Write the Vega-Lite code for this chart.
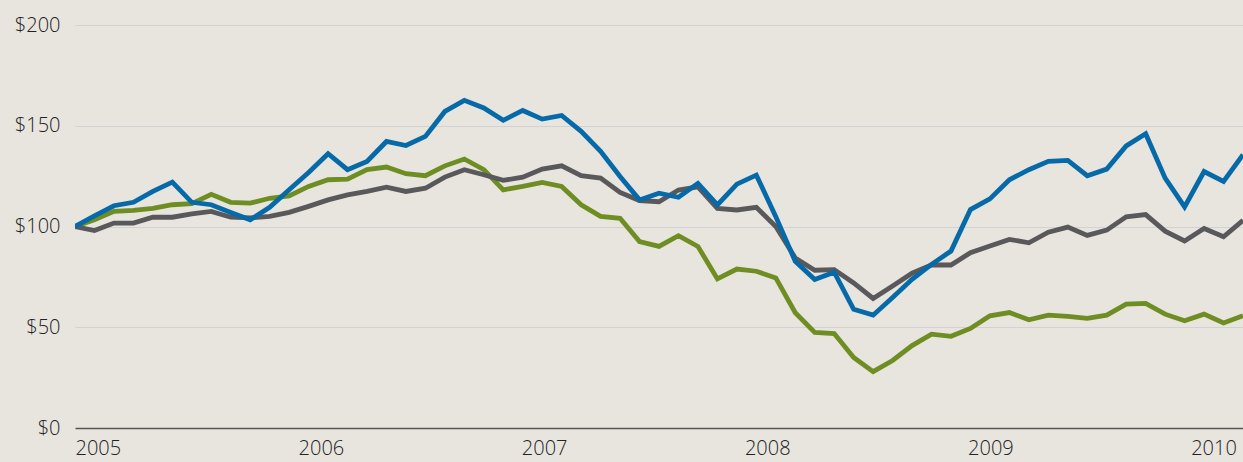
{
  "$schema": "https://vega.github.io/schema/vega-lite/v6.json",
  "width": 1168,
  "height": 403,
  "autosize": {"type": "none"},
  "padding": {"left": 75, "top": 25, "right": 0, "bottom": 34},
  "background": "#e8e5df",
  "config": {
    "view": {"stroke": null},
    "axis": {"labelFont": "Open Sans", "labelFontSize": 20, "labelFontWeight": 300, "labelColor": "#222222"}
  },
  "data": {
    "values": [
      {"m":0,"s":"A","v":100},{"m":1,"s":"A","v":103.3},{"m":2,"s":"A","v":107.5},{"m":3,"s":"A","v":108},{"m":4,"s":"A","v":109},{"m":5,"s":"A","v":110.8},{"m":6,"s":"A","v":111.3},{"m":7,"s":"A","v":116},{"m":8,"s":"A","v":112},{"m":9,"s":"A","v":111.6},
      {"m":10,"s":"A","v":114},{"m":11,"s":"A","v":115.2},{"m":12,"s":"A","v":119.9},{"m":13,"s":"A","v":123.2},{"m":14,"s":"A","v":123.5},{"m":15,"s":"A","v":128.2},{"m":16,"s":"A","v":129.5},{"m":17,"s":"A","v":126.2},{"m":18,"s":"A","v":125.2},{"m":19,"s":"A","v":130.1},
      {"m":20,"s":"A","v":133.5},{"m":21,"s":"A","v":128.2},{"m":22,"s":"A","v":118.2},{"m":23,"s":"A","v":119.9},{"m":24,"s":"A","v":121.9},{"m":25,"s":"A","v":119.9},{"m":26,"s":"A","v":110.8},{"m":27,"s":"A","v":105},{"m":28,"s":"A","v":104.1},{"m":29,"s":"A","v":92.5},
      {"m":30,"s":"A","v":90.1},{"m":31,"s":"A","v":95.4},{"m":32,"s":"A","v":90.1},{"m":33,"s":"A","v":74},{"m":34,"s":"A","v":78.9},{"m":35,"s":"A","v":77.8},{"m":36,"s":"A","v":74.5},{"m":37,"s":"A","v":57.2},{"m":38,"s":"A","v":47.4},{"m":39,"s":"A","v":46.9},
      {"m":40,"s":"A","v":35},{"m":41,"s":"A","v":28},{"m":42,"s":"A","v":33.5},{"m":43,"s":"A","v":40.9},{"m":44,"s":"A","v":46.6},{"m":45,"s":"A","v":45.5},{"m":46,"s":"A","v":49.4},{"m":47,"s":"A","v":55.7},{"m":48,"s":"A","v":57.3},{"m":49,"s":"A","v":53.7},
      {"m":50,"s":"A","v":56},{"m":51,"s":"A","v":55.4},{"m":52,"s":"A","v":54.4},{"m":53,"s":"A","v":56},{"m":54,"s":"A","v":61.5},{"m":55,"s":"A","v":61.8},{"m":56,"s":"A","v":56.5},{"m":57,"s":"A","v":53.2},{"m":58,"s":"A","v":56.5},{"m":59,"s":"A","v":52.1},{"m":60,"s":"A","v":55.7},

      {"m":0,"s":"B","v":100},{"m":1,"s":"B","v":98},{"m":2,"s":"B","v":101.7},{"m":3,"s":"B","v":101.7},{"m":4,"s":"B","v":104.6},{"m":5,"s":"B","v":104.6},{"m":6,"s":"B","v":106.3},{"m":7,"s":"B","v":107.5},{"m":8,"s":"B","v":104.6},{"m":9,"s":"B","v":104.3},
      {"m":10,"s":"B","v":105},{"m":11,"s":"B","v":107},{"m":12,"s":"B","v":110},{"m":13,"s":"B","v":113.2},{"m":14,"s":"B","v":115.7},{"m":15,"s":"B","v":117.4},{"m":16,"s":"B","v":119.5},{"m":17,"s":"B","v":117.4},{"m":18,"s":"B","v":119},{"m":19,"s":"B","v":124.5},
      {"m":20,"s":"B","v":128.2},{"m":21,"s":"B","v":125.7},{"m":22,"s":"B","v":122.9},{"m":23,"s":"B","v":124.5},{"m":24,"s":"B","v":128.5},{"m":25,"s":"B","v":130.1},{"m":26,"s":"B","v":125.2},{"m":27,"s":"B","v":124},{"m":28,"s":"B","v":116.9},{"m":29,"s":"B","v":112.9},
      {"m":30,"s":"B","v":112.3},{"m":31,"s":"B","v":118.1},{"m":32,"s":"B","v":119.7},{"m":33,"s":"B","v":109},{"m":34,"s":"B","v":108.2},{"m":35,"s":"B","v":109.5},{"m":36,"s":"B","v":100},{"m":37,"s":"B","v":84.4},{"m":38,"s":"B","v":78.3},{"m":39,"s":"B","v":78.6},
      {"m":40,"s":"B","v":72},{"m":41,"s":"B","v":64.3},{"m":42,"s":"B","v":70.5},{"m":43,"s":"B","v":76.8},{"m":44,"s":"B","v":80.9},{"m":45,"s":"B","v":80.9},{"m":46,"s":"B","v":87},{"m":47,"s":"B","v":90.3},{"m":48,"s":"B","v":93.6},{"m":49,"s":"B","v":91.9},
      {"m":50,"s":"B","v":97.2},{"m":51,"s":"B","v":99.7},{"m":52,"s":"B","v":95.6},{"m":53,"s":"B","v":98.2},{"m":54,"s":"B","v":104.8},{"m":55,"s":"B","v":105.9},{"m":56,"s":"B","v":97.7},{"m":57,"s":"B","v":92.8},{"m":58,"s":"B","v":99},{"m":59,"s":"B","v":94.9},{"m":60,"s":"B","v":103.1},

      {"m":0,"s":"C","v":100},{"m":1,"s":"C","v":105.3},{"m":2,"s":"C","v":110.3},{"m":3,"s":"C","v":112},{"m":4,"s":"C","v":117.4},{"m":5,"s":"C","v":122},{"m":6,"s":"C","v":112},{"m":7,"s":"C","v":110.8},{"m":8,"s":"C","v":107},{"m":9,"s":"C","v":103.3},
      {"m":10,"s":"C","v":109.5},{"m":11,"s":"C","v":118.2},{"m":12,"s":"C","v":126.8},{"m":13,"s":"C","v":136.1},{"m":14,"s":"C","v":128.2},{"m":15,"s":"C","v":132.3},{"m":16,"s":"C","v":142.2},{"m":17,"s":"C","v":140.2},{"m":18,"s":"C","v":144.7},{"m":19,"s":"C","v":157.1},
      {"m":20,"s":"C","v":162.6},{"m":21,"s":"C","v":158.8},{"m":22,"s":"C","v":152.7},{"m":23,"s":"C","v":157.6},{"m":24,"s":"C","v":153.3},{"m":25,"s":"C","v":155.1},{"m":26,"s":"C","v":147.2},{"m":27,"s":"C","v":137.3},{"m":28,"s":"C","v":124.8},{"m":29,"s":"C","v":113.2},
      {"m":30,"s":"C","v":116.5},{"m":31,"s":"C","v":114.5},{"m":32,"s":"C","v":121.4},{"m":33,"s":"C","v":110.7},{"m":34,"s":"C","v":121},{"m":35,"s":"C","v":125.5},{"m":36,"s":"C","v":104.9},{"m":37,"s":"C","v":82.7},{"m":38,"s":"C","v":73.7},{"m":39,"s":"C","v":77.3},
      {"m":40,"s":"C","v":58.9},{"m":41,"s":"C","v":56},{"m":42,"s":"C","v":64.8},{"m":43,"s":"C","v":73.8},{"m":44,"s":"C","v":81.2},{"m":45,"s":"C","v":87.8},{"m":46,"s":"C","v":108.4},{"m":47,"s":"C","v":113.7},{"m":48,"s":"C","v":123.2},{"m":49,"s":"C","v":128.2},
      {"m":50,"s":"C","v":132.3},{"m":51,"s":"C","v":132.8},{"m":52,"s":"C","v":125.2},{"m":53,"s":"C","v":128.5},{"m":54,"s":"C","v":140},{"m":55,"s":"C","v":146},{"m":56,"s":"C","v":124},{"m":57,"s":"C","v":109.7},{"m":58,"s":"C","v":127.3},{"m":59,"s":"C","v":122.4},{"m":60,"s":"C","v":135.6}
    ]
  },
  "mark": {"type": "line", "strokeWidth": 4.8, "clip": true},
  "encoding": {
    "x": {
      "field": "m",
      "type": "quantitative",
      "scale": {"domain": [0, 60], "nice": false, "zero": false},
      "axis": {
        "title": null,
        "values": [0, 11.46, 22.93, 34.39, 45.85, 57.31],
        "labelExpr": "'' + (2005 + round(datum.value / 11.46))",
        "labelAlign": "left",
        "labelFlush": false,
        "labelOverlap": false,
        "labelPadding": 10,
        "grid": false,
        "ticks": false,
        "tickSize": 0,
        "domainColor": "#555555",
        "domainWidth": 1.5
      }
    },
    "y": {
      "field": "v",
      "type": "quantitative",
      "scale": {"domain": [0, 200], "nice": false},
      "axis": {
        "title": null,
        "values": [0, 50, 100, 150, 200],
        "labelExpr": "'$' + datum.value",
        "labelPadding": 15,
        "domain": false,
        "ticks": false,
        "tickSize": 0,
        "grid": true,
        "gridColor": "#d2d2d4",
        "gridWidth": 1.2
      }
    },
    "color": {
      "field": "s",
      "type": "nominal",
      "scale": {"domain": ["A", "B", "C"], "range": ["#6e8e24", "#59595b", "#066aa8"]},
      "legend": null
    }
  }
}
